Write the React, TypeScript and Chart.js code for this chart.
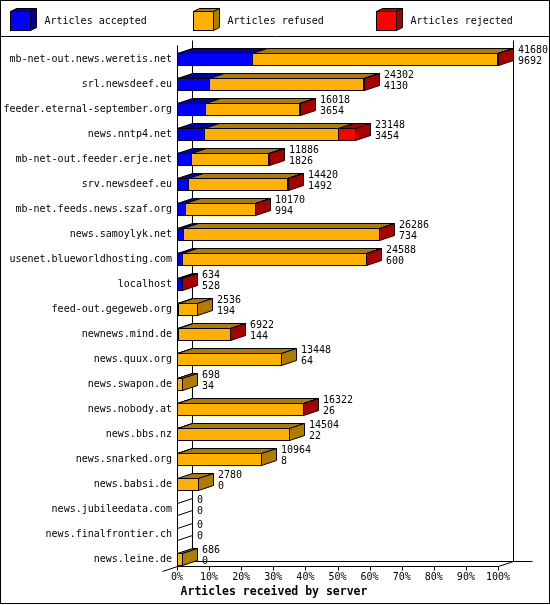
import React, { useEffect, useRef } from "react";
import { Chart, registerables } from "chart.js";
Chart.register(...registerables);

const servers = [
  "mb-net-out.news.weretis.net",
  "srl.newsdeef.eu",
  "feeder.eternal-september.org",
  "news.nntp4.net",
  "mb-net-out.feeder.erje.net",
  "srv.newsdeef.eu",
  "mb-net.feeds.news.szaf.org",
  "news.samoylyk.net",
  "usenet.blueworldhosting.com",
  "localhost",
  "feed-out.gegeweb.org",
  "newnews.mind.de",
  "news.quux.org",
  "news.swapon.de",
  "news.nobody.at",
  "news.bbs.nz",
  "news.snarked.org",
  "news.babsi.de",
  "news.jubileedata.com",
  "news.finalfrontier.ch",
  "news.leine.de",
];
const offered = [41680, 24302, 16018, 23148, 11886, 14420, 10170, 26286, 24588, 634, 2536, 6922, 13448, 698, 16322, 14504, 10964, 2780, 0, 0, 686];
const accepted = [9692, 4130, 3654, 3454, 1826, 1492, 994, 734, 600, 528, 194, 144, 64, 34, 26, 22, 8, 0, 0, 0, 0];
const rejected = [120, 90, 150, 2283, 60, 80, 70, 50, 60, 106, 0, 60, 0, 0, 24, 0, 0, 0, 0, 0, 0];
const refused = offered.map((o, i) => o - accepted[i] - rejected[i]);

const seriesLabels = ["Articles accepted", "Articles refused", "Articles rejected"];
const frontColors = ["#0000FF", "#FFB000", "#FF0000"];
const shadeColors = ["#0000A8", "#B07C00", "#A80000"];
const xTicks = [0, 10, 20, 30, 40, 50, 60, 70, 80, 90, 100];
const axisTitle = "Articles received by server";

const maxTotal = Math.max(...offered);
const pct = (arr: number[]) => arr.map((v) => (v / maxTotal) * 100);

const FONT = "DejaVu Sans Mono";
const DX = 15;
const DY = 5;

function poly(ctx: CanvasRenderingContext2D, pts: number[][], fill?: string) {
  ctx.beginPath();
  ctx.moveTo(pts[0][0] + 0.5, pts[0][1] + 0.5);
  for (let k = 1; k < pts.length; k++) ctx.lineTo(pts[k][0] + 0.5, pts[k][1] + 0.5);
  ctx.closePath();
  if (fill) {
    ctx.fillStyle = fill;
    ctx.fill();
  }
  ctx.stroke();
}
function line(ctx: CanvasRenderingContext2D, x1: number, y1: number, x2: number, y2: number) {
  ctx.beginPath();
  ctx.moveTo(x1 + 0.5, y1 + 0.5);
  ctx.lineTo(x2 + 0.5, y2 + 0.5);
  ctx.stroke();
}

const threeD = {
  id: "threeD",
  beforeDraw(chart: any) {
    const ctx = chart.ctx as CanvasRenderingContext2D;
    ctx.save();
    ctx.fillStyle = "#fff";
    ctx.fillRect(0, 0, chart.width, chart.height);
    ctx.restore();
  },
  beforeDatasetsDraw(chart: any) {
    const ctx = chart.ctx as CanvasRenderingContext2D;
    const { chartArea } = chart;
    const xs = chart.scales.x;
    const x0 = Math.round(xs.getPixelForValue(0));
    const x1 = Math.round(xs.getPixelForValue(100));
    const floorY = Math.round(chartArea.bottom - 5.5);
    const topY = Math.round(chartArea.top - 1.5);
    ctx.save();
    ctx.strokeStyle = "#000";
    ctx.lineWidth = 1;
    // back wall
    line(ctx, x0 + DX, topY - DY, x0 + DX, floorY - DY);
    line(ctx, x1 + DX, topY - DY, x1 + DX, floorY - DY);
    line(ctx, x0 + DX, floorY - DY, x1 + DX + 19, floorY - DY);
    // front axes
    line(ctx, x0, topY, x0, floorY);
    line(ctx, x0, floorY, x1, floorY);
    line(ctx, x0 - DX, floorY + DY, x0 + DX, floorY - DY);
    line(ctx, x1, floorY, x1 + DX, floorY - DY);
    xTicks.forEach((t) => {
      const px = Math.round(xs.getPixelForValue(t));
      line(ctx, px, floorY, px, floorY + 4);
    });
    ctx.restore();
  },
  afterDatasetsDraw(chart: any) {
    const ctx = chart.ctx as CanvasRenderingContext2D;
    const xs = chart.scales.x;
    const x0 = Math.round(xs.getPixelForValue(0));
    const metas = [0, 1, 2].map((d) => chart.getDatasetMeta(d));
    ctx.save();
    ctx.strokeStyle = "#000";
    ctx.lineWidth = 1;
    for (let i = 0; i < servers.length; i++) {
      const el0 = metas[0].data[i];
      const c = el0.y;
      const top = Math.round(c - 6);
      const bot = top + 12;
      const vals = [accepted[i], refused[i], rejected[i]];
      const segs: { xs: number; xe: number; d: number }[] = [];
      for (let d = 0; d < 3; d++) {
        if (vals[d] <= 0) continue;
        const el = metas[d].data[i];
        segs.push({ xs: Math.round(el.base), xe: Math.round(el.x), d });
      }
      if (segs.length === 0) {
        poly(ctx, [[x0, top], [x0 + DX, top - DY], [x0 + DX, bot - DY], [x0, bot]], "#fff");
        continue;
      }
      segs.forEach((s) => {
        poly(ctx, [[s.xs, top], [s.xs + DX, top - DY], [s.xe + DX, top - DY], [s.xe, top]], shadeColors[s.d]);
      });
      const last = segs[segs.length - 1];
      poly(ctx, [[last.xe, top], [last.xe + DX, top - DY], [last.xe + DX, bot - DY], [last.xe, bot]], shadeColors[last.d]);
      segs.forEach((s) => {
        ctx.strokeRect(s.xs + 0.5, top + 0.5, s.xe - s.xs, bot - top);
      });
    }
    // value labels
    ctx.fillStyle = "#000";
    ctx.font = `10px "${FONT}"`;
    ctx.textAlign = "left";
    ctx.textBaseline = "middle";
    for (let i = 0; i < servers.length; i++) {
      const c = metas[0].data[i].y;
      const end = Math.round(xs.getPixelForValue(((offered[i]) / maxTotal) * 100));
      const lx = end + DX + 5;
      ctx.fillText(String(offered[i]), lx, c - 8.5);
      ctx.fillText(String(accepted[i]), lx, c + 2.5);
    }
    ctx.restore();
  },
  afterDraw(chart: any) {
    const ctx = chart.ctx as CanvasRenderingContext2D;
    ctx.save();
    ctx.strokeStyle = "#000";
    ctx.lineWidth = 1;
    // legend
    const ds = chart.data.datasets;
    ctx.font = `10px "${FONT}"`;
    ctx.textAlign = "left";
    ctx.textBaseline = "middle";
    ds.forEach((d: any, k: number) => {
      const L = 10 + k * 183;
      const T = 11;
      const W = 20;
      const H = 19;
      const ddx = 6;
      const ddy = 3;
      ctx.fillStyle = frontColors[k];
      ctx.fillRect(L, T, W, H);
      poly(ctx, [[L, T], [L + ddx, T - ddy], [L + W + ddx, T - ddy], [L + W, T]], shadeColors[k]);
      poly(ctx, [[L + W, T], [L + W + ddx, T - ddy], [L + W + ddx, T + H - ddy], [L + W, T + H]], shadeColors[k]);
      ctx.strokeRect(L + 0.5, T + 0.5, W, H);
      ctx.fillStyle = "#000";
      ctx.fillText(d.label, L + 34.5, 21);
    });
    line(ctx, 0, 36, chart.width, 36);
    ctx.strokeRect(0.5, 0.5, chart.width - 1, chart.height - 2);
    // axis title
    ctx.font = `bold 11.5px "${FONT}"`;
    ctx.textAlign = "center";
    ctx.fillStyle = "#000";
    ctx.fillText(axisTitle, 274, 592);
    ctx.restore();
  },
};

export default function App() {
  const ref = useRef<HTMLCanvasElement>(null);
  useEffect(() => {
    const canvas = ref.current!;
    const data = [accepted, refused, rejected];
    const chart = new Chart(canvas, {
      type: "bar",
      data: {
        labels: servers,
        datasets: data.map((arr, k) => ({
          label: seriesLabels[k],
          data: pct(arr),
          backgroundColor: frontColors[k],
          borderWidth: 0,
          barThickness: 12,
        })),
      },
      options: {
        indexAxis: "y",
        responsive: false,
        maintainAspectRatio: false,
        animation: false,
        events: [],
        layout: { padding: { left: 0, top: 46.5, right: 52, bottom: 0 } },
        plugins: { legend: { display: false }, tooltip: { enabled: false }, title: { display: false } },
        scales: {
          x: {
            type: "linear",
            stacked: true,
            min: 0,
            max: 100,
            afterFit: (s: any) => {
              s.height = 33.5;
            },
            afterBuildTicks: (s: any) => {
              s.ticks = xTicks.map((v) => ({ value: v }));
            },
            grid: { display: false, drawTicks: false },
            border: { display: false },
            ticks: {
              autoSkip: false,
              maxRotation: 0,
              padding: 0,
              color: "#000",
              font: { family: FONT, size: 10 },
              callback: (v: any) => `${v}%`,
            },
          },
          y: {
            type: "category",
            stacked: true,
            afterFit: (s: any) => {
              s.width = 177;
            },
            grid: { display: false, drawTicks: false },
            border: { display: false },
            ticks: {
              autoSkip: false,
              padding: 5,
              color: "#000",
              font: { family: FONT, size: 10 },
            },
          },
        },
      },
      plugins: [threeD],
    } as any);
    return () => chart.destroy();
  }, []);
  return (
    <div style={{ position: "absolute", left: 0, top: 0, width: 550, height: 605, background: "#fff" }}>
      <canvas ref={ref} width={550} height={605} style={{ display: "block", width: 550, height: 605 }} />
    </div>
  );
}
